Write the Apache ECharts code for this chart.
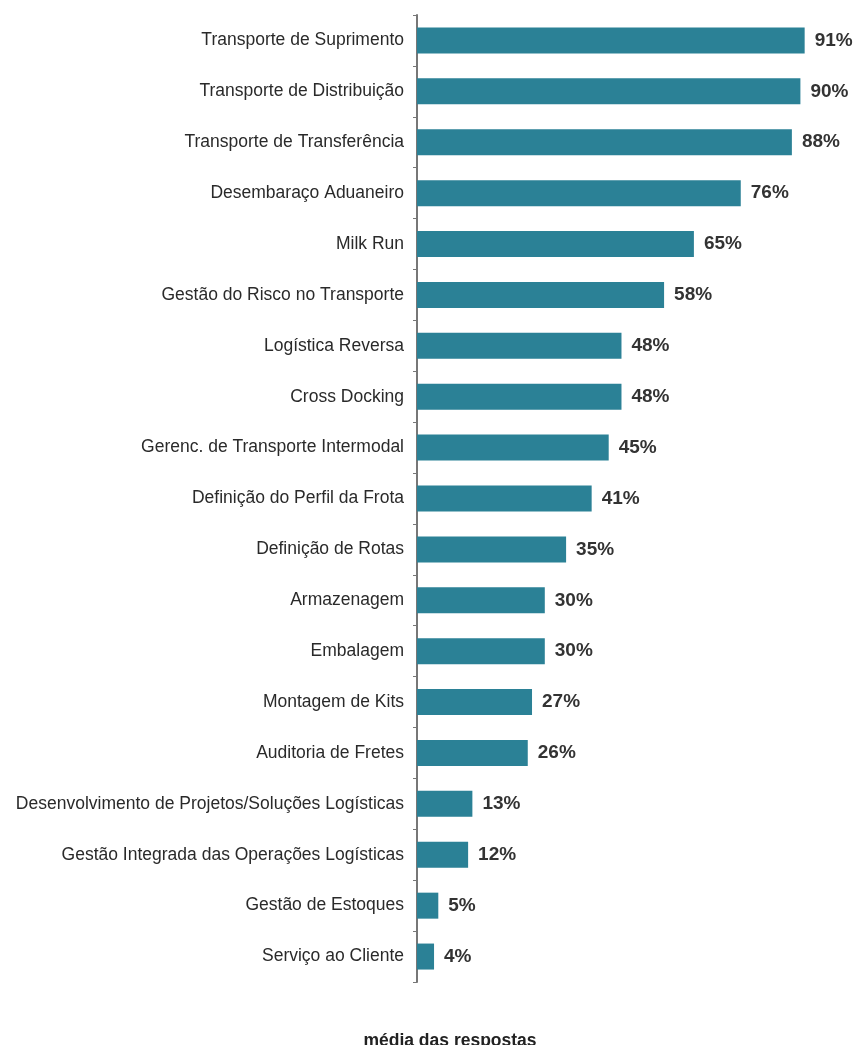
<!DOCTYPE html>
<html><head><meta charset="utf-8">
<script src="https://cdn.jsdelivr.net/npm/echarts@6/dist/echarts.min.js"></script>
<style>html,body{margin:0;padding:0;background:#fff}#c{width:854px;height:1045px}</style>
</head><body><div id="c"></div>
<script>
const categories = ["Transporte de Suprimento","Transporte de Distribuição","Transporte de Transferência","Desembaraço Aduaneiro","Milk Run","Gestão do Risco no Transporte","Logística Reversa","Cross Docking","Gerenc. de Transporte Intermodal","Definição do Perfil da Frota","Definição de Rotas","Armazenagem","Embalagem","Montagem de Kits","Auditoria de Fretes","Desenvolvimento de Projetos/Soluções Logísticas","Gestão Integrada das Operações Logísticas","Gestão de Estoques","Serviço ao Cliente"];
const values = [91,90,88,76,65,58,48,48,45,41,35,30,30,27,26,13,12,5,4];
const axisTitle = "média das respostas";

const chart = echarts.init(document.getElementById('c'));
chart.setOption({
  animation:false,
  title:{text:axisTitle,left:445,top:1027,textAlign:'center',textStyle:{fontFamily:'Liberation Sans',fontSize:17.5,fontWeight:'bold',color:'#222'}},
  grid:{left:417,right:11,top:15,bottom:63,containLabel:false},
  xAxis:{type:'value',min:0,max:100,show:false},
  yAxis:{type:'category',inverse:true,data:categories,
    axisLine:{show:true,lineStyle:{color:'#777',width:2}},
    axisTick:{show:true,length:4,lineStyle:{color:'#777'}},
    axisLabel:{margin:13,fontFamily:'Liberation Sans',fontSize:17.5,color:'#2a2a2a'}},
  series:[{type:'bar',data:values,barWidth:26,itemStyle:{color:'#2b8196'},
    label:{show:true,position:'right',distance:10,formatter:'{c}%',fontFamily:'Liberation Sans',fontSize:19,fontWeight:'bold',color:'#333'}}]
});
</script></body></html>
